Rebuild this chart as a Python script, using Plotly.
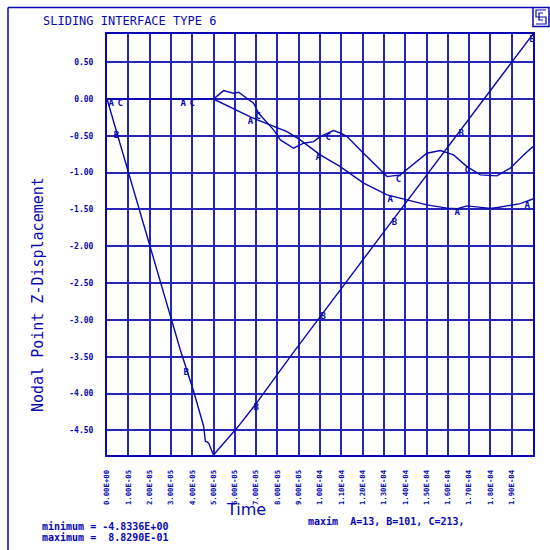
import numpy as np
import plotly.graph_objects as go

# ---------------- data ----------------
# Time values are in units of 1e-5 s (scaled below)
a_t = [0.0, 5.0, 6.73, 8.45, 9.07, 10.01, 10.95, 12.03, 13.15, 14.08, 15.02, 15.96, 16.45, 16.90, 17.45, 18.00, 18.40, 18.78, 19.40, 20.0]
a_z = [0.0, 0.0, -0.243, -0.442, -0.555, -0.759, -0.917, -1.139, -1.302, -1.369, -1.437, -1.482, -1.490, -1.451, -1.470, -1.485, -1.470, -1.451, -1.420, -1.356]

b_t = [0.0, 3.44, 4.07, 4.54, 4.62, 4.70, 4.77, 5.0, 6.10, 6.96, 7.98, 8.84, 13.07, 18.38, 20.0]
b_z = [0.0, -3.405, -3.971, -4.446, -4.650, -4.655, -4.672, -4.8336, -4.468, -4.152, -3.745, -3.405, -1.777, 0.259, 0.8829]

c_t = [0.0, 5.0, 5.47, 5.94, 6.18, 6.88, 7.12, 7.82, 8.14, 8.76, 9.23, 9.70, 10.01, 10.64, 11.00, 11.27, 11.89, 12.52, 13.15, 13.77, 14.24, 15.02, 15.65, 15.95, 16.27, 16.90, 17.53, 18.31, 18.93, 19.56, 20.0]
c_z = [0.0, 0.0, 0.114, 0.079, 0.092, -0.057, -0.193, -0.419, -0.555, -0.668, -0.600, -0.578, -0.510, -0.429, -0.465, -0.510, -0.691, -0.871, -1.053, -1.030, -0.917, -0.736, -0.700, -0.730, -0.759, -0.917, -1.030, -1.044, -0.939, -0.759, -0.646]

# curve-identification letter positions (time, 1e-5 s)
a_lab_t = [0.20, 3.58, 6.73, 9.92, 13.30, 16.44, 19.73]
b_lab_t = [0.44, 3.72, 7.01, 10.15, 13.49, 16.63, 19.96]
c_lab_t = [0.62, 4.00, 7.10, 10.39, 13.68, 16.91]

x_tickvals = [i * 1e-5 for i in range(20)]
x_ticktext = ["0.00E+00", "1.00E-05", "2.00E-05", "3.00E-05", "4.00E-05", "5.00E-05",
              "6.00E-05", "7.00E-05", "8.00E-05", "9.00E-05", "1.00E-04", "1.10E-04",
              "1.20E-04", "1.30E-04", "1.40E-04", "1.50E-04", "1.60E-04", "1.70E-04",
              "1.80E-04", "1.90E-04"]
y_tickvals = [0.5, 0.0, -0.5, -1.0, -1.5, -2.0, -2.5, -3.0, -3.5, -4.0, -4.5]
y_ticktext = ["0.50", "0.00", "-0.50", "-1.00", "-1.50", "-2.00", "-2.50", "-3.00", "-3.50", "-4.00", "-4.50"]

y_min, y_max = -4.8336, 0.8829
x_max = 2.0e-4

BLUE = "#0808b0"
GRID = "#2626b8"
MONO = "DejaVu Sans Mono"

SCALE = 1e-5

fig = go.Figure()
for t, z in ((a_t, a_z), (b_t, b_z), (c_t, c_z)):
    fig.add_trace(go.Scatter(x=np.array(t) * SCALE, y=z, mode="lines",
                             line=dict(color=BLUE, width=1.4), showlegend=False,
                             hoverinfo="skip"))

for letter, lt, t, z in (("A", a_lab_t, a_t, a_z), ("B", b_lab_t, b_t, b_z), ("C", c_lab_t, c_t, c_z)):
    lz = np.interp(lt, t, z)
    fig.add_trace(go.Scatter(x=np.array(lt) * SCALE, y=lz, mode="text", text=[letter] * len(lt),
                             textposition="bottom center",
                             textfont=dict(family=MONO, size=9, color=BLUE, weight="bold"),
                             showlegend=False, hoverinfo="skip"))

# ---------------- layout ----------------
L, R, T, B = 107, 533, 34, 455


def pxx(x):
    return (x - L) / (R - L)


def pxy(y):
    return (B - y) / (B - T)


fig.update_layout(
    width=550, height=550,
    margin=dict(l=L, r=550 - R, t=T, b=550 - B),
    paper_bgcolor="white", plot_bgcolor="white",
    showlegend=False,
    xaxis=dict(range=[0, x_max], tickvals=x_tickvals, ticktext=x_ticktext, tickangle=-90,
               showgrid=True, gridcolor=GRID, gridwidth=1.5, zeroline=False,
               showline=True, mirror=True, linecolor=BLUE, linewidth=2,
               ticks="", ticklabelstandoff=10,
               tickfont=dict(family=MONO, size=7.3, color=BLUE, weight="bold")),
    yaxis=dict(range=[y_min, y_max], tickvals=y_tickvals, ticktext=y_ticktext,
               showgrid=True, gridcolor=GRID, gridwidth=1.5, zeroline=False,
               showline=True, mirror=True, linecolor=BLUE, linewidth=2,
               ticks="", ticklabelstandoff=10,
               tickfont=dict(family=MONO, size=8, color=BLUE, weight="bold")),
)

ann = []
ann.append(dict(text="SLIDING INTERFACE TYPE 6", x=pxx(41), y=pxy(20.5), xref="paper", yref="paper",
                xanchor="left", yanchor="middle", showarrow=False,
                font=dict(family=MONO, size=12, color=BLUE)))
ann.append(dict(text="Nodal Point Z-Displacement", x=pxx(38), y=pxy(295), xref="paper", yref="paper",
                xanchor="center", yanchor="middle", textangle=-90, showarrow=False,
                font=dict(family=MONO, size=15, color=BLUE)))
ann.append(dict(text="Time", x=pxx(246), y=pxy(509), xref="paper", yref="paper",
                xanchor="center", yanchor="middle", showarrow=False,
                font=dict(family="DejaVu Sans", size=16, color=BLUE)))
ann.append(dict(text="minimum = -4.8336E+00", x=pxx(40), y=pxy(526.5), xref="paper", yref="paper",
                xanchor="left", yanchor="middle", showarrow=False,
                font=dict(family=MONO, size=10, color=BLUE, weight="bold")))
ann.append(dict(text="maximum =\u00a0\u00a08.8290E-01", x=pxx(40), y=pxy(537.5), xref="paper", yref="paper",
                xanchor="left", yanchor="middle", showarrow=False,
                font=dict(family=MONO, size=10, color=BLUE, weight="bold")))
ann.append(dict(text="maxim\u00a0\u00a0A=13,\u00a0B=101,\u00a0C=213,", x=pxx(306), y=pxy(521), xref="paper", yref="paper",
                xanchor="left", yanchor="middle", showarrow=False,
                font=dict(family=MONO, size=10, color=BLUE, weight="bold")))
fig.update_layout(annotations=ann)

shapes = []
# outer frame (top and left)
shapes.append(dict(type="line", xref="paper", yref="paper", x0=pxx(8), y0=pxy(7.5), x1=pxx(533), y1=pxy(7.5),
                   line=dict(color=BLUE, width=1.5)))
shapes.append(dict(type="line", xref="paper", yref="paper", x0=pxx(8), y0=pxy(7.5), x1=pxx(8), y1=pxy(550),
                   line=dict(color=BLUE, width=1.5)))
# logo box
shapes.append(dict(type="rect", xref="paper", yref="paper", x0=pxx(533), y0=pxy(7.5), x1=pxx(549), y1=pxy(26.5),
                   line=dict(color=BLUE, width=1.5)))
# logo meander (S-like)
pts = [(546, 10), (536, 10), (536, 17), (546, 17), (546, 24), (536, 24)]
path = "M " + " L ".join(f"{pxx(x)},{pxy(y)}" for x, y in pts)
shapes.append(dict(type="path", xref="paper", yref="paper", path=path, line=dict(color=BLUE, width=1.2)))
pts2 = [(543, 13), (539, 13), (539, 20), (543, 20)]
path2 = "M " + " L ".join(f"{pxx(x)},{pxy(y)}" for x, y in pts2)
shapes.append(dict(type="path", xref="paper", yref="paper", path=path2, line=dict(color=BLUE, width=1.2)))
fig.update_layout(shapes=shapes)

fig.write_html("out.html")
